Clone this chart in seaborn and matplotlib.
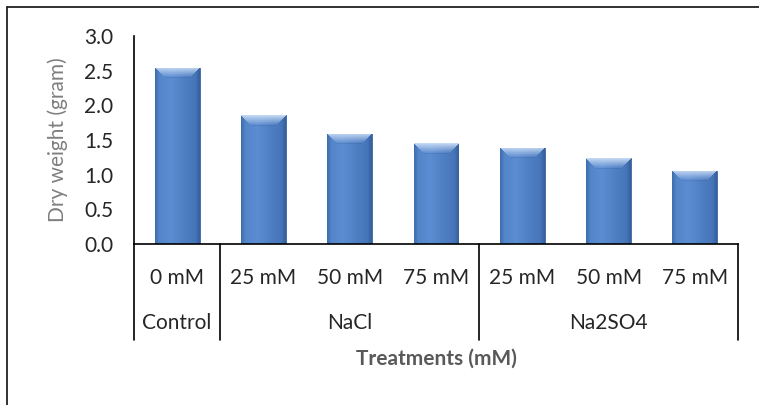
import numpy as np
import pandas as pd
import matplotlib
matplotlib.use("Agg")
import matplotlib.pyplot as plt
import matplotlib.transforms as mtransforms
from matplotlib.colors import to_rgb
from matplotlib.lines import Line2D
import seaborn as sns

# Dry weight per treatment (grams)
groups = ["Control", "NaCl", "NaCl", "NaCl", "Na2SO4", "Na2SO4", "Na2SO4"]
concentrations = ["0 mM", "25 mM", "50 mM", "75 mM", "25 mM", "50 mM", "75 mM"]
dry_weight = [2.54, 1.86, 1.59, 1.45, 1.39, 1.24, 1.06]
group_order = ["Control", "NaCl", "Na2SO4"]
y_ticks = [0.0, 0.5, 1.0, 1.5, 2.0, 2.5, 3.0]

df = pd.DataFrame({
    "group": groups,
    "conc": concentrations,
    "weight": dry_weight,
})
df["key"] = df["group"] + " " + df["conc"]

sns.set_theme(style="white")
plt.rcParams["font.family"] = ["Lato", "DejaVu Sans"]

fig = plt.figure(figsize=(7.59, 4.05), dpi=100)
ax = fig.add_axes([134 / 759, 1 - 244 / 405, (738 - 134) / 759, 208 / 405])

sns.barplot(data=df, x="key", y="weight", order=list(df["key"]),
            color="#4F81C4", width=0.52, edgecolor="#3A64A0", linewidth=0.6,
            ax=ax)

ax.set_ylim(0, 3.0)
ax.set_xlim(-0.5, len(df) - 0.5)
fig.canvas.draw()

# bevelled shading for each bar
base_l = np.array(to_rgb("#5083C6"))
base_m = np.array(to_rgb("#5C8CD2"))
base_r = np.array(to_rgb("#4272B4"))
top_light = np.array(to_rgb("#C2D7F3"))
edge_dark = np.array(to_rgb("#2F5690"))
for patch in list(ax.patches):
    bb = patch.get_window_extent()
    W = max(int(round(bb.width)), 2)
    H = max(int(round(bb.height)), 2)
    t = np.linspace(0, 1, W)
    prof = np.empty((W, 3))
    for i, v in enumerate(t):
        if v < 0.35:
            a = v / 0.35
            prof[i] = base_l * (1 - a) + base_m * a
        else:
            a = (v - 0.35) / 0.65
            prof[i] = base_m * (1 - a) + base_r * a
    img = np.repeat(prof[None, :, :], H, axis=0)
    side = 4
    for c in range(side):
        a = 1 - c / side
        img[:, c] = img[:, c] * (1 - 0.45 * a) + edge_dark * (0.45 * a)
        img[:, W - 1 - c] = img[:, W - 1 - c] * (1 - 0.6 * a) + edge_dark * (0.6 * a)
    bev = 10
    for r in range(min(bev, H)):
        a = 1 - r / bev
        c0, c1 = r, W - r
        if c1 > c0:
            img[r, c0:c1] = img[r, c0:c1] * (1 - a) + top_light * a
    if H > bev + 1:
        img[bev, bev:W - bev] = img[bev, bev:W - bev] * 0.93
    img = np.clip(img, 0, 1)
    x0, y0 = patch.get_x(), patch.get_y()
    w, h = patch.get_width(), patch.get_height()
    im = ax.imshow(img, extent=(x0, x0 + w, y0, y0 + h), aspect="auto",
                   origin="upper", zorder=patch.get_zorder() + 0.1,
                   interpolation="nearest")
    im.set_clip_path(patch)

ax.set_ylim(0, 3.0)
ax.set_xlim(-0.5, len(df) - 0.5)

# axes styling
for s in ["top", "right"]:
    ax.spines[s].set_visible(False)
for s in ["left", "bottom"]:
    ax.spines[s].set_color("black")
    ax.spines[s].set_linewidth(1.2)
ax.set_yticks(y_ticks)
ax.set_yticklabels([f"{v:.1f}" for v in y_ticks], fontsize=15, color="#262626")
ax.set_xticks(range(len(df)))
ax.set_xticklabels(concentrations, fontsize=15, color="#262626")
ax.tick_params(axis="both", length=0)
ax.tick_params(axis="y", pad=15)
ax.tick_params(axis="x", pad=17)
ax.set_xlabel("")
ax.set_ylabel("")
ax.grid(False)

# group dividers and labels below the category axis
trans = mtransforms.blended_transform_factory(ax.transData, ax.transAxes)
counts = [groups.count(g) for g in group_order]
edges = np.concatenate([[0], np.cumsum(counts)]) - 0.5
for e in edges:
    ax.add_line(Line2D([e, e], [0, -96 / 208], transform=trans,
                       color="black", lw=1.2, clip_on=False))
for g, a, b in zip(group_order, edges[:-1], edges[1:]):
    ax.text((a + b) / 2, -79 / 208, g, transform=trans, ha="center",
            va="center", fontsize=15, color="#262626")

fig.text(436 / 759, 1 - 359 / 405, "Treatments (mM)", ha="center",
         va="center", fontsize=15, fontweight="bold", color="#595959")
fig.text(58 / 759, 1 - 140 / 405, "Dry weight (gram)", ha="center",
         va="center", rotation=90, fontsize=15, color="#7F7F7F")

# outer frame (top and left edges)
fig.add_artist(Line2D([7 / 759, 1], [1 - 6.5 / 405, 1 - 6.5 / 405],
                      transform=fig.transFigure, color="#222222", lw=1.3))
fig.add_artist(Line2D([7 / 759, 7 / 759], [0, 1 - 6.5 / 405],
                      transform=fig.transFigure, color="#222222", lw=1.3))

fig.savefig("out.png", dpi=100)
